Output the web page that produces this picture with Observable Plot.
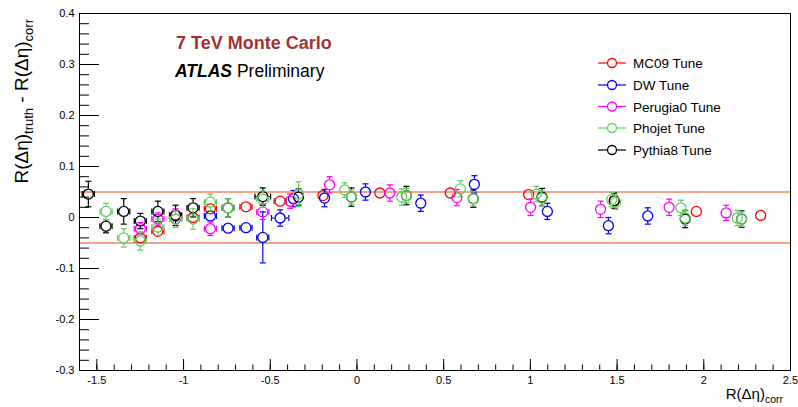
<!DOCTYPE html>
<html><head><meta charset="utf-8">
<script src="https://cdn.jsdelivr.net/npm/d3@7"></script>
<script src="https://cdn.jsdelivr.net/npm/@observablehq/plot@0.6"></script>
<style>
body{margin:0;background:#fff;}
#chart{width:798px;height:407px;}
</style></head><body><div id="chart"></div>
<script>
// rows: [x, y, yErr, xErr]
const mc09 = [
  [-1.249, -0.040, 0.010, 0.035], [-1.148, -0.027, 0.010, 0.035], [-1.046, -0.003, 0.008, 0.035],
  [-0.945, 0.000, 0.008, 0.035], [-0.845, 0.017, 0.008, 0.035], [-0.640, 0.021, 0.006, 0.035],
  [-0.443, 0.032, 0.005, 0.035], [-0.196, 0.043, 0.004, 0], [0.132, 0.048, 0.004, 0],
  [0.538, 0.048, 0.004, 0], [0.990, 0.045, 0.004, 0], [1.484, 0.033, 0.004, 0],
  [1.957, 0.012, 0.004, 0], [2.328, 0.004, 0.004, 0]
];
const dw = [
  [-0.845, 0.003, 0.010, 0.035], [-0.743, -0.021, 0.008, 0.035], [-0.640, -0.020, 0.008, 0.035],
  [-0.543, -0.039, 0.050, 0.035], [-0.443, -0.001, 0.016, 0.050], [-0.366, 0.037, 0.016, 0],
  [-0.187, 0.038, 0.017, 0], [0.049, 0.050, 0.016, 0], [0.368, 0.028, 0.016, 0],
  [0.677, 0.065, 0.017, 0], [1.098, 0.012, 0.016, 0], [1.450, -0.016, 0.016, 0],
  [1.677, 0.003, 0.016, 0]
];
const perugia0 = [
  [-1.249, -0.022, 0.012, 0.035], [-1.148, -0.003, 0.012, 0.035], [-1.046, 0.005, 0.012, 0.035],
  [-0.845, -0.022, 0.013, 0.035], [-0.543, 0.011, 0.015, 0.035], [-0.385, 0.032, 0.014, 0],
  [-0.158, 0.064, 0.016, 0], [0.190, 0.048, 0.016, 0], [0.576, 0.039, 0.016, 0],
  [1.001, 0.020, 0.016, 0], [1.405, 0.016, 0.016, 0], [1.800, 0.020, 0.016, 0],
  [2.129, 0.009, 0.015, 0]
];
const phojet = [
  [-1.447, 0.012, 0.016, 0.035], [-1.345, -0.040, 0.018, 0.035], [-1.249, -0.046, 0.018, 0.035],
  [-1.148, -0.019, 0.016, 0.035], [-1.046, -0.003, 0.016, 0.035], [-0.945, -0.003, 0.020, 0.035],
  [-0.845, 0.030, 0.016, 0.035], [-0.743, 0.019, 0.018, 0.035], [-0.543, 0.036, 0.016, 0.035],
  [-0.337, 0.046, 0.024, 0], [-0.071, 0.054, 0.014, 0], [-0.032, 0.040, 0.014, 0],
  [0.258, 0.040, 0.016, 0], [0.285, 0.043, 0.014, 0], [0.596, 0.056, 0.016, 0],
  [0.671, 0.037, 0.014, 0], [1.034, 0.046, 0.015, 0], [1.067, 0.038, 0.014, 0],
  [1.469, 0.035, 0.014, 0], [1.492, 0.030, 0.014, 0], [1.868, 0.019, 0.015, 0],
  [1.893, -0.001, 0.014, 0], [2.193, -0.001, 0.015, 0], [2.218, -0.003, 0.014, 0]
];
const pythia8 = [
  [-1.549, 0.046, 0.025, 0.035], [-1.447, -0.017, 0.013, 0.035], [-1.345, 0.012, 0.025, 0.035],
  [-1.249, -0.007, 0.015, 0.035], [-1.148, 0.012, 0.020, 0.035], [-1.046, 0.004, 0.020, 0.035],
  [-0.945, 0.019, 0.018, 0.035], [-0.743, 0.019, 0.018, 0.035], [-0.543, 0.041, 0.017, 0.045],
  [-0.337, 0.040, 0.016, 0], [-0.032, 0.040, 0.018, 0], [0.285, 0.043, 0.018, 0],
  [0.671, 0.037, 0.017, 0], [1.067, 0.040, 0.017, 0], [1.484, 0.033, 0.015, 0],
  [1.893, -0.003, 0.017, 0], [2.218, -0.003, 0.016, 0]
];
const tunes = ["MC09 Tune", "DW Tune", "Perugia0 Tune", "Phojet Tune", "Pythia8 Tune"];
const colors = ["#ff0000", "#0000ff", "#ff00ff", "#5fcf5f", "#000000"];
const yTicks = [-0.3, -0.2, -0.1, 0, 0.1, 0.2, 0.3, 0.4];
const xTicks = [-1.5, -1, -0.5, 0, 0.5, 1, 1.5, 2, 2.5];
const band = [-0.05, 0.05];

const seriesData = [mc09, dw, perugia0, phojet, pythia8];
const drawOrder = [0, 1, 2, 4, 3];

const R = 5, minErr = 0.011;
const hCap = {draw(ctx) { ctx.moveTo(-3, 0); ctx.lineTo(3, 0); }};
const vCap = {draw(ctx) { ctx.moveTo(0, -3); ctx.lineTo(0, 3); }};

function seriesMarks(rowsRaw, color) {
  const rows = rowsRaw.map(([x, y, ey, ex]) => ({x, y, ey, ex}));
  const ye = rows.filter(d => d.ey > minErr);
  const xe = rows.filter(d => d.ex > 0);
  const st = {stroke: color, strokeWidth: 1.2};
  return [
    Plot.ruleX(ye, {x: "x", y1: d => d.y + d.ey, y2: "y", insetBottom: R, ...st}),
    Plot.ruleX(ye, {x: "x", y1: "y", y2: d => d.y - d.ey, insetTop: R, ...st}),
    Plot.dot(ye, {x: "x", y: d => d.y + d.ey, symbol: hCap, fill: "none", ...st}),
    Plot.dot(ye, {x: "x", y: d => d.y - d.ey, symbol: hCap, fill: "none", ...st}),
    Plot.ruleY(xe, {y: "y", x1: d => d.x - d.ex, x2: "x", insetRight: R, ...st}),
    Plot.ruleY(xe, {y: "y", x1: "x", x2: d => d.x + d.ex, insetLeft: R, ...st}),
    Plot.dot(xe, {x: d => d.x - d.ex, y: "y", symbol: vCap, fill: "none", ...st}),
    Plot.dot(xe, {x: d => d.x + d.ex, y: "y", symbol: vCap, fill: "none", ...st}),
    Plot.dot(rows, {x: "x", y: "y", r: R, stroke: color, strokeWidth: 1.3, fill: "none"})
  ];
}

const yMinor = d3.range(-15, 21).map(i => +(i * 0.02).toFixed(2));
const xMinor = d3.range(-16, 26).map(i => +(i * 0.1).toFixed(1));

const font = "'Liberation Sans', Arial, Helvetica, sans-serif";
const chart = Plot.plot({
  width: 798, height: 407,
  marginLeft: 79, marginRight: 8, marginTop: 13, marginBottom: 37,
  x: {domain: [-1.6, 2.5]},
  y: {domain: [-0.3, 0.4]},
  style: {fontFamily: font, fontSize: "11px", color: "black", background: "white"},
  marks: [
    Plot.ruleY(band, {stroke: "#f7845e", strokeWidth: 1.6}),
    ...drawOrder.flatMap(i => seriesMarks(seriesData[i], colors[i])),
    Plot.axisY(yMinor, {anchor: "left", tickSize: -10, fill: "none", label: null}),
    Plot.axisY(yTicks, {anchor: "left", tickSize: -20, fill: "none", label: null}),
    Plot.axisY(yTicks, {anchor: "left", tickSize: 0, tickPadding: 5, tickFormat: d => String(d), label: null}),
    Plot.axisX(xMinor, {anchor: "bottom", tickSize: -5.5, fill: "none", label: null}),
    Plot.axisX(xTicks, {anchor: "bottom", tickSize: -11, fill: "none", label: null}),
    Plot.axisX(xTicks, {anchor: "bottom", tickSize: 0, tickPadding: 6, tickFormat: d => String(d), label: null}),
    Plot.frame({stroke: "black", strokeWidth: 1})
  ]
});
document.getElementById("chart").appendChild(chart);

const svg = d3.select(chart);
// y title
const yt = svg.append("text")
  .attr("transform", "translate(28,19) rotate(-90)")
  .attr("text-anchor", "end")
  .attr("font-family", font).attr("font-size", 19).attr("fill", "black");
yt.append("tspan").text("R(\u0394\u03b7)");
yt.append("tspan").attr("dy", 5).attr("font-size", 13).text("truth");
yt.append("tspan").attr("dy", -5).text(" - R(\u0394\u03b7)");
yt.append("tspan").attr("dy", 5).attr("font-size", 13).text("corr");
// x title
const xt = svg.append("text")
  .attr("x", 783).attr("y", 399)
  .attr("text-anchor", "end")
  .attr("font-family", font).attr("font-size", 15).attr("fill", "black");
xt.append("tspan").text("R(\u0394\u03b7)");
xt.append("tspan").attr("dy", 4).attr("font-size", 10.5).text("corr");
// annotations
svg.append("text").attr("x", 176).attr("y", 49).attr("text-anchor", "start")
  .attr("font-family", font).attr("font-size", 18).attr("font-weight", "bold")
  .attr("fill", "#a23232").text("7 TeV Monte Carlo");
const at = svg.append("text").attr("x", 175).attr("y", 77).attr("text-anchor", "start")
  .attr("font-family", font).attr("font-size", 17.5).attr("fill", "black");
at.append("tspan").attr("font-weight", "bold").attr("font-style", "italic").text("ATLAS");
at.append("tspan").text(" Preliminary");
// legend
const rowsY = [63, 85, 106.5, 128, 150];
const lg = svg.append("g");
tunes.forEach((t, i) => {
  const g = lg.append("g").attr("transform", `translate(0,${rowsY[i]})`);
  g.append("line").attr("x1", 598).attr("x2", 626).attr("y1", 0).attr("y2", 0)
    .attr("stroke", colors[i]).attr("stroke-width", 1.2);
  g.append("circle").attr("cx", 612).attr("cy", 0).attr("r", 4.5)
    .attr("fill", "white").attr("stroke", colors[i]).attr("stroke-width", 1.3);
  g.append("text").attr("x", 633).attr("y", 5).attr("text-anchor", "start")
    .attr("font-family", font).attr("font-size", 13.5).attr("fill", "black").text(t);
});
</script>
</body></html>
